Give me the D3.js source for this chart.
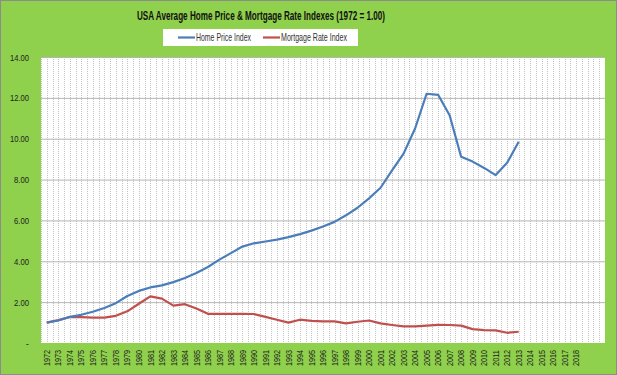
<!DOCTYPE html>
<html>
<head>
    <title>USA Average Home Price & Mortgage Rate Indexes</title>
    <script src="https://cdn.jsdelivr.net/npm/d3@7"></script>
    <style>
        body { margin: 0; background: #fff; }
        text { font-family: "Liberation Sans", Arial, sans-serif; }
    </style>
</head>
<body>
<div id="chart"></div>
<script>
    // categories: years on the axis (two trailing empty slots like the original sheet)
    const xLabels = [];
    for (let yr = 1972; yr <= 2018; yr++) xLabels.push(String(yr));
    xLabels.push("", "");

    const homePrice = [1.00, 1.10, 1.28, 1.38, 1.53, 1.71, 1.95, 2.30, 2.55, 2.72, 2.82, 2.98,
        3.18, 3.43, 3.72, 4.08, 4.40, 4.72, 4.88, 4.97, 5.06, 5.18, 5.33, 5.50, 5.70, 5.93,
        6.25, 6.62, 7.08, 7.60, 8.45, 9.27, 10.50, 12.20, 12.15, 11.15, 9.12, 8.88, 8.57,
        8.22, 8.82, 9.85];
    const mortgageRate = [1.00, 1.12, 1.27, 1.27, 1.24, 1.24, 1.33, 1.55, 1.92, 2.28, 2.17,
        1.83, 1.90, 1.69, 1.43, 1.43, 1.43, 1.43, 1.42, 1.28, 1.14, 1.00, 1.14, 1.08, 1.06,
        1.06, 0.96, 1.04, 1.10, 0.96, 0.88, 0.81, 0.81, 0.85, 0.89, 0.88, 0.85, 0.68, 0.63,
        0.62, 0.50, 0.55];
    const yTicks = [0, 2, 4, 6, 8, 10, 12, 14];

    const W = 617, H = 375;
    const plot = { left: 41, right: 605, top: 57, bottom: 343 };

    const svg = d3.select("#chart").append("svg")
        .attr("width", W).attr("height", H);

    // green chart background with grey border
    svg.append("rect")
        .attr("x", 0.5).attr("y", 0.5)
        .attr("width", W - 1).attr("height", H - 1)
        .attr("fill", "#8fd04c")
        .attr("stroke", "#8c8c8c");

    const x = d3.scaleBand()
        .domain(xLabels.map((d, i) => i))
        .range([plot.left, plot.right]);

    const y = d3.scaleLinear()
        .domain([0, 14])
        .range([plot.bottom, plot.top]);

    svg.append("rect")
        .attr("x", plot.left).attr("y", plot.top)
        .attr("width", plot.right - plot.left)
        .attr("height", plot.bottom - plot.top)
        .attr("fill", "#fff");

    // dotted vertical grid (category edges and centres)
    const vg = svg.append("g");
    xLabels.forEach((d, i) => {
        [x(i), x(i) + x.bandwidth() / 2].forEach(px => {
            vg.append("line")
                .attr("x1", Math.round(px) + 0.5).attr("x2", Math.round(px) + 0.5)
                .attr("y1", plot.top).attr("y2", plot.bottom)
                .attr("stroke", "#c4c4c4")
                .attr("stroke-dasharray", "1,1");
        });
    });

    // horizontal grid
    svg.append("g")
        .attr("transform", `translate(${plot.left},0)`)
        .call(d3.axisLeft(y).tickValues(yTicks.slice(1))
            .tickSize(-(plot.right - plot.left)).tickFormat(""))
        .call(g => g.select(".domain").remove())
        .call(g => g.selectAll("line").attr("stroke", "#b5b5b5"));

    // y axis labels
    svg.append("g")
        .attr("transform", `translate(${plot.left},0)`)
        .call(d3.axisLeft(y).tickValues(yTicks).tickSize(0).tickPadding(12)
            .tickFormat(d => d === 0 ? "-" : d3.format(".2f")(d)))
        .call(g => g.select(".domain").remove())
        .call(g => g.selectAll("text")
            .attr("font-size", 9.5)
            .attr("fill", "#222")
            .style("font-family", "'Liberation Sans', sans-serif")
            .attr("textLength", d => d === 0 ? null : (d >= 10 ? 19 : 15))
            .attr("lengthAdjust", "spacingAndGlyphs"));

    // x axis labels, rotated
    svg.append("g")
        .attr("transform", `translate(0,${plot.bottom})`)
        .call(d3.axisBottom(x).tickSize(0).tickFormat(i => xLabels[i]))
        .call(g => g.select(".domain").remove())
        .call(g => g.selectAll("text")
            .attr("transform", "rotate(-90)")
            .attr("text-anchor", "end")
            .attr("x", -7).attr("y", 0)
            .attr("dy", "0.35em")
            .attr("font-size", 9)
            .attr("fill", "#222")
            .style("font-family", "'Liberation Sans', sans-serif")
            .attr("textLength", i => xLabels[i] ? 16 : null)
            .attr("lengthAdjust", "spacingAndGlyphs"));

    const line = d3.line()
        .x((d, i) => x(i) + x.bandwidth() / 2)
        .y(d => y(d));

    svg.append("path")
        .datum(mortgageRate)
        .attr("d", line)
        .attr("fill", "none")
        .attr("stroke", "#c0504d")
        .attr("stroke-width", 2.2)
        .attr("stroke-linejoin", "round");

    svg.append("path")
        .datum(homePrice)
        .attr("d", line)
        .attr("fill", "none")
        .attr("stroke", "#4a7ebb")
        .attr("stroke-width", 2.2)
        .attr("stroke-linejoin", "round");

    // title
    svg.append("text")
        .attr("x", 261).attr("y", 20)
        .attr("text-anchor", "middle")
        .attr("font-size", 12.5)
        .attr("font-weight", "bold")
        .attr("fill", "#111")
        .attr("textLength", 248)
        .attr("lengthAdjust", "spacingAndGlyphs")
        .text("USA Average Home Price & Mortgage Rate Indexes (1972 = 1.00)");

    // legend
    const lg = svg.append("g");
    lg.append("rect")
        .attr("x", 163).attr("y", 29)
        .attr("width", 195).attr("height", 17)
        .attr("fill", "#fff");
    const items = [
        { name: "Home Price Index", color: "#4a7ebb", x: 178, w: 55 },
        { name: "Mortgage Rate Index", color: "#c0504d", x: 263, w: 66 }
    ];
    items.forEach(it => {
        lg.append("line")
            .attr("x1", it.x).attr("x2", it.x + 17)
            .attr("y1", 37.5).attr("y2", 37.5)
            .attr("stroke", it.color).attr("stroke-width", 2.2);
        lg.append("text")
            .attr("x", it.x + 18).attr("y", 41)
            .attr("font-size", 10.5)
            .attr("fill", "#333")
            .attr("textLength", it.w)
            .attr("lengthAdjust", "spacingAndGlyphs")
            .text(it.name);
    });
</script>
</body>
</html>
